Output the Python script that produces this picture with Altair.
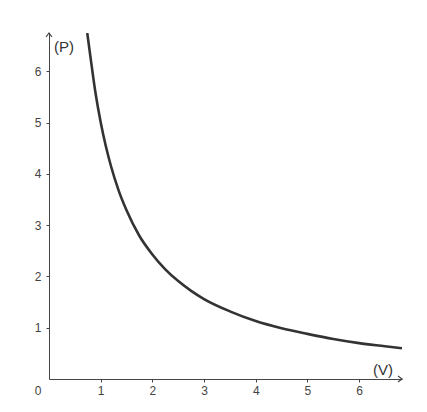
import altair as alt
import pandas as pd

# Values
V = [0.74, 0.80, 0.90, 1.00, 1.10, 1.20, 1.35, 1.50, 1.75, 2.00, 2.25, 2.50,
     2.75, 3.00, 3.50, 4.00, 4.50, 5.00, 5.50, 6.00, 6.50, 6.83]
P = [6.75, 6.30, 5.58, 5.01, 4.54, 4.15, 3.67, 3.29, 2.79, 2.43, 2.14, 1.91,
     1.72, 1.56, 1.32, 1.13, 0.99, 0.88, 0.78, 0.70, 0.64, 0.60]
ticks = [1, 2, 3, 4, 5, 6]
x_max = 6.83
y_max = 6.75

FONT = "Liberation Sans"
AX = "#444444"

df = pd.DataFrame({"V": V, "P": P})
xs = alt.Scale(domain=[0, x_max], nice=False, zero=False)
ys = alt.Scale(domain=[0, y_max], nice=False, zero=False)

curve = alt.Chart(df).mark_line(
    color="#333333", strokeWidth=2.6, interpolate="monotone", clip=True
).encode(
    x=alt.X("V:Q", scale=xs, axis=alt.Axis(
        values=ticks, title=None, grid=False, tickSize=3, labelPadding=3,
        domainColor=AX, tickColor=AX, labelColor=AX, labelFont=FONT,
        labelFontSize=12, format="d")),
    y=alt.Y("P:Q", scale=ys, axis=alt.Axis(
        values=ticks, title=None, grid=False, tickSize=3, labelPadding=5,
        domainColor=AX, tickColor=AX, labelColor=AX, labelFont=FONT,
        labelFontSize=12, format="d")),
)

up = alt.Chart(pd.DataFrame({"V": [0], "P": [y_max]})).mark_point(
    shape="M -0.75 1 L 0 0 L 0.75 1", size=64, filled=False,
    color=AX, strokeWidth=1.2, opacity=1
).encode(x=alt.X("V:Q", scale=xs), y=alt.Y("P:Q", scale=ys))

right = alt.Chart(pd.DataFrame({"V": [x_max], "P": [0]})).mark_point(
    shape="M -1 -0.75 L 0 0 L -1 0.75", size=64, filled=False,
    color=AX, strokeWidth=1.2, opacity=1
).encode(x=alt.X("V:Q", scale=xs), y=alt.Y("P:Q", scale=ys))

plab = alt.Chart(pd.DataFrame({"V": [0], "P": [y_max], "t": ["(P)"]})).mark_text(
    align="left", baseline="middle", dx=5, dy=14, fontSize=15, font=FONT, color="#333333"
).encode(x=alt.X("V:Q", scale=xs), y=alt.Y("P:Q", scale=ys), text="t:N")

vlab = alt.Chart(pd.DataFrame({"V": [x_max], "P": [0], "t": ["(V)"]})).mark_text(
    align="right", baseline="middle", dx=-9, dy=-9, fontSize=15, font=FONT, color="#333333"
).encode(x=alt.X("V:Q", scale=xs), y=alt.Y("P:Q", scale=ys), text="t:N")

zlab = alt.Chart(pd.DataFrame({"V": [0], "P": [0], "t": ["0"]})).mark_text(
    align="center", baseline="middle", dx=-11, dy=12, fontSize=12, font=FONT, color=AX
).encode(x=alt.X("V:Q", scale=xs), y=alt.Y("P:Q", scale=ys), text="t:N")

chart = alt.layer(curve, up, right, plab, vlab, zlab).properties(
    width=353, height=346,
    autosize=alt.AutoSizeParams(type="none"),
    padding={"left": 41, "top": 25, "right": 10, "bottom": 20},
    background="white",
).configure_view(stroke=None)

chart.save("out.html", embed_options={"renderer": "svg", "actions": False})
